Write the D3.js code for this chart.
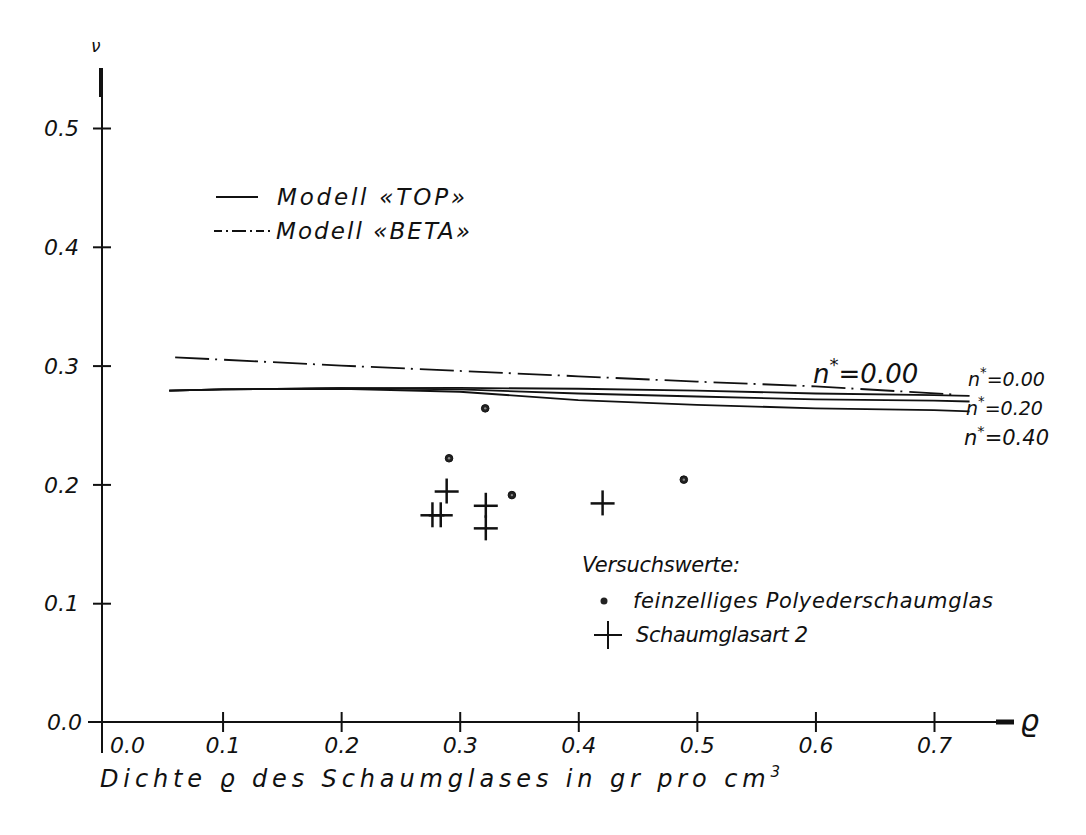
<!DOCTYPE html>
<html>
<head>
<meta charset="utf-8">
<script src="https://cdn.jsdelivr.net/npm/d3@7"></script>
<style>
  html, body { margin: 0; padding: 0; background: #fff; }
  svg { display: block; }
  text { font-family: "DejaVu Sans", sans-serif; font-style: italic; fill: #111; }
</style>
</head>
<body>
<svg id="chart" width="1086" height="835"></svg>
<script>
// ---------- data ----------
const xTicks = [0.1, 0.2, 0.3, 0.4, 0.5, 0.6, 0.7];
const yTicks = [0.0, 0.1, 0.2, 0.3, 0.4, 0.5];
const xTickLabels = ["0.1", "0.2", "0.3", "0.4", "0.5", "0.6", "0.7"];
const yTickLabels = ["0.0", "0.1", "0.2", "0.3", "0.4", "0.5"];

// Model TOP (solid) — density rho vs Poisson ratio nu
const rhoTop   = [0.055, 0.10, 0.20, 0.30, 0.40, 0.50, 0.60, 0.70, 0.73];
const topN000  = [0.279, 0.280, 0.281, 0.2812, 0.2805, 0.279, 0.2765, 0.2752, 0.2745];
const topN020  = [0.279, 0.280, 0.281, 0.2800, 0.2765, 0.274, 0.2715, 0.2705, 0.2698];
const topN040  = [0.279, 0.280, 0.2805, 0.2780, 0.2710, 0.267, 0.2640, 0.2625, 0.2615];

// Model BETA (dash-dot)
const rhoBeta  = [0.06, 0.20, 0.30, 0.40, 0.50, 0.60, 0.72];
const betaN000 = [0.307, 0.300, 0.2955, 0.291, 0.2865, 0.2825, 0.2755];

// Versuchswerte
const dotsRho = [0.291, 0.3215, 0.344, 0.489];
const dotsNu  = [0.222, 0.264, 0.191, 0.204];
const crossRho = [0.289, 0.277, 0.284, 0.322, 0.322, 0.4205];
const crossNu  = [0.194, 0.174, 0.174, 0.182, 0.163, 0.184];

// ---------- scales ----------
const svg = d3.select("#chart");
const x = d3.scaleLinear().domain([0, 0.7]).range([104, 934]);
const y = d3.scaleLinear().domain([0, 0.5]).range([722, 128]);
const ink = "#111";

// ---------- axes ----------
const gx = svg.append("g").attr("transform", `translate(0,${y(0)})`)
  .call(d3.axisBottom(x).tickValues(xTicks).tickSize(10).tickFormat((d, i) => xTickLabels[i]));
gx.select(".domain").remove();
gx.selectAll(".tick line").attr("y1", -10).attr("stroke", ink).attr("stroke-width", 2);
gx.selectAll(".tick text").attr("y", 31).attr("dy", 0).attr("font-size", 22)
  .attr("font-family", "DejaVu Sans").style("font-style", "italic").attr("fill", ink);

const gy = svg.append("g").attr("transform", `translate(${x(0) - 2},0)`)
  .call(d3.axisLeft(y).tickValues(yTicks.slice(1)).tickSize(9).tickFormat((d, i) => yTickLabels[i + 1]));
gy.select(".domain").remove();
gy.selectAll(".tick line").attr("x1", 9).attr("stroke", ink).attr("stroke-width", 2);
gy.selectAll(".tick text").attr("x", -23).attr("dy", "0.35em").attr("font-size", 22)
  .attr("font-family", "DejaVu Sans").style("font-style", "italic").attr("fill", ink);

// axis lines
svg.append("line").attr("x1", 88).attr("x2", 1000).attr("y1", y(0)).attr("y2", y(0))
  .attr("stroke", ink).attr("stroke-width", 2);
svg.append("line").attr("x1", 996).attr("x2", 1014).attr("y1", y(0)).attr("y2", y(0))
  .attr("stroke", ink).attr("stroke-width", 5);
svg.append("line").attr("x1", x(0) - 2).attr("x2", x(0) - 2).attr("y1", 753).attr("y2", 68)
  .attr("stroke", ink).attr("stroke-width", 2);
svg.append("line").attr("x1", x(0) - 3).attr("x2", x(0) - 3).attr("y1", 68).attr("y2", 97)
  .attr("stroke", ink).attr("stroke-width", 4);

// origin labels
svg.append("text").attr("x", 47).attr("y", y(0)).attr("dy", "0.35em")
  .attr("font-size", 22).text(yTickLabels[0]);
svg.append("text").attr("x", 110).attr("y", 753).attr("font-size", 22).text("0.0");

// axis titles
svg.append("text").attr("x", 1020).attr("y", 731).attr("font-size", 30).text("ϱ");
svg.append("text").attr("x", 91).attr("y", 52).attr("font-size", 17).text("ν");
svg.append("text").attr("x", 100).attr("y", 787).attr("font-size", 24)
  .attr("textLength", 680).attr("lengthAdjust", "spacing")
  .html('Dichte ϱ des Schaumglases in gr pro cm<tspan dy="-10" font-size="15">3</tspan>');

// ---------- lines ----------
const line = d3.line().x(d => x(d[0])).y(d => y(d[1]));
[topN000, topN020, topN040].forEach(vals => {
  svg.append("path").datum(rhoTop.map((r, i) => [r, vals[i]]))
    .attr("d", line).attr("fill", "none").attr("stroke", ink).attr("stroke-width", 1.8);
});
svg.append("path").datum(rhoBeta.map((r, i) => [r, betaN000[i]]))
  .attr("d", line).attr("fill", "none").attr("stroke", ink).attr("stroke-width", 1.8)
  .attr("stroke-dasharray", "34,6,2,7");

// line labels
function nLabel(xp, yp, val, fs) {
  const t = svg.append("text").attr("x", xp).attr("y", yp).attr("font-size", fs);
  t.append("tspan").text("n");
  t.append("tspan").attr("dy", -fs * 0.45).attr("font-size", fs * 0.7).attr("font-style", "normal").text("*");
  t.append("tspan").attr("dy", fs * 0.45).text("=" + val);
}
nLabel(813, 383, "0.00", 26);
nLabel(968, 386, "0.00", 19);
nLabel(966, 415, "0.20", 19);
nLabel(964, 445, "0.40", 21);

// ---------- markers ----------
svg.append("g").selectAll("circle").data(dotsRho.map((r, i) => [r, dotsNu[i]])).join("circle")
  .attr("cx", d => x(d[0])).attr("cy", d => y(d[1])).attr("r", 3.8)
  .attr("fill", "#222").attr("stroke", "#111").attr("stroke-width", 1);
svg.append("g").selectAll("circle").data(dotsRho.map((r, i) => [r, dotsNu[i]])).join("circle")
  .attr("cx", d => x(d[0])).attr("cy", d => y(d[1])).attr("r", 1.2).attr("fill", "#888");

const crossG = svg.append("g");
crossRho.forEach((r, i) => {
  const cx = x(r), cy = y(crossNu[i]);
  crossG.append("line").attr("x1", cx - 12).attr("x2", cx + 12).attr("y1", cy).attr("y2", cy)
    .attr("stroke", ink).attr("stroke-width", 2.5);
  crossG.append("line").attr("x1", cx).attr("x2", cx).attr("y1", cy - 13).attr("y2", cy + 12)
    .attr("stroke", ink).attr("stroke-width", 2.5);
});

// ---------- legends ----------
svg.append("line").attr("x1", 216).attr("x2", 258).attr("y1", 197).attr("y2", 197)
  .attr("stroke", ink).attr("stroke-width", 1.8);
svg.append("text").attr("x", 277).attr("y", 205).attr("font-size", 23)
  .attr("textLength", 188).attr("lengthAdjust", "spacing").text("Modell «TOP»");
svg.append("line").attr("x1", 214).attr("x2", 272).attr("y1", 231).attr("y2", 231)
  .attr("stroke", ink).attr("stroke-width", 1.8).attr("stroke-dasharray", "8,4,2,4,14,4,2,4");
svg.append("text").attr("x", 276).attr("y", 239).attr("font-size", 23)
  .attr("textLength", 194).attr("lengthAdjust", "spacing").text("Modell «BETA»");

svg.append("text").attr("x", 582).attr("y", 572).attr("font-size", 21)
  .attr("textLength", 158).attr("lengthAdjust", "spacing").text("Versuchswerte:");
svg.append("circle").attr("cx", 604).attr("cy", 601).attr("r", 3.5).attr("fill", "#222");
svg.append("text").attr("x", 633).attr("y", 608).attr("font-size", 21)
  .attr("textLength", 360).attr("lengthAdjust", "spacing").text("feinzelliges Polyederschaumglas");
svg.append("line").attr("x1", 594).attr("x2", 622).attr("y1", 635).attr("y2", 635)
  .attr("stroke", ink).attr("stroke-width", 2);
svg.append("line").attr("x1", 608).attr("x2", 608).attr("y1", 621).attr("y2", 649)
  .attr("stroke", ink).attr("stroke-width", 2);
svg.append("text").attr("x", 636).attr("y", 642).attr("font-size", 21)
  .attr("textLength", 172).attr("lengthAdjust", "spacing").text("Schaumglasart  2");
</script>
</body>
</html>
